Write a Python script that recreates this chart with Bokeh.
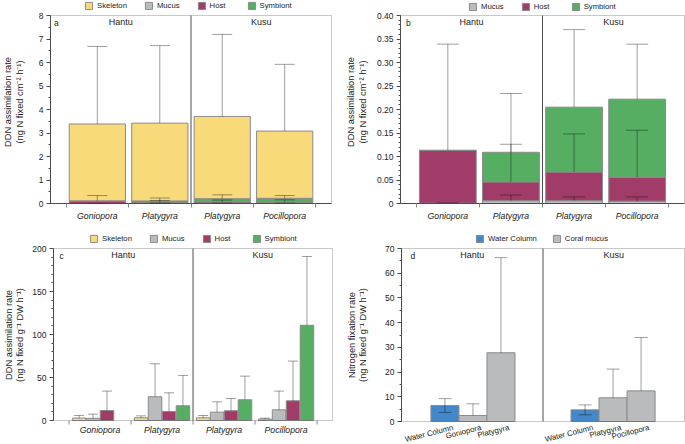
import numpy as np
from bokeh.plotting import figure
from bokeh.layouts import column, row
from bokeh.core.properties import value
from bokeh.models import (ColumnDataSource, Whisker, TeeHead, Label, LabelSet, Legend, LegendItem,
                          BoxAnnotation, FixedTicker, NumeralTickFormatter, Range1d)
from bokeh.embed import file_html
from bokeh.resources import INLINE

# ---------------- data ----------------
species = ["Goniopora", "Platygyra", "Platygyra", "Pocillopora"]
species_site = ["Hantu", "Hantu", "Kusu", "Kusu"]
sites = ["Hantu", "Kusu"]

# panel b (ng N fixed cm-2 h-1), stacked: mucus, host, symbiont
b_mucus = [0.0005, 0.006, 0.006, 0.005]
b_host = [0.1125, 0.040, 0.061, 0.051]
b_symb = [0.0, 0.063, 0.138, 0.166]
b_mucus_sd = [0.001, 0.012, 0.008, 0.009]
b_host_sd = [0.226, 0.080, 0.081, 0.100]
b_symb_sd = [0.0, 0.125, 0.165, 0.117]

# panel a adds the skeleton on top
a_skel = [3.27, 3.31, 3.50, 2.86]
a_skel_sd = [3.30, 3.30, 3.49, 2.84]

# panel c (ng N fixed g-1 DW h-1), grouped
c_skel = [2.8, 3.1, 3.1, 1.6]
c_mucus = [2.5, 27.6, 9.7, 12.4]
c_host = [11.6, 10.5, 11.3, 22.9]
c_symb = [0.0, 17.1, 24.1, 110.7]
c_skel_sd = [3.0, 2.3, 2.7, 1.1]
c_mucus_sd = [4.9, 38.4, 12.0, 21.8]
c_host_sd = [22.6, 21.7, 14.3, 46.2]
c_symb_sd = [0.0, 35.3, 27.5, 80.0]

# panel d nitrogen fixation
d_labels = ["Water Column", "Goniopora", "Platygyra", "Water Column", "Platygyra", "Pocillopora"]
d_site = ["Hantu", "Hantu", "Hantu", "Kusu", "Kusu", "Kusu"]
d_type = ["Water Column", "Coral mucus", "Coral mucus", "Water Column", "Coral mucus", "Coral mucus"]
d_value = [6.45, 2.43, 27.8, 4.72, 9.6, 12.4]
d_sd = [2.8, 4.72, 38.5, 2.0, 11.6, 21.6]

# y-axis ticks
a_ticks = [0, 1, 2, 3, 4, 5, 6, 7, 8]
b_ticks = [0, 0.05, 0.10, 0.15, 0.20, 0.25, 0.30, 0.35, 0.40]
c_ticks = [0, 50, 100, 150, 200]
d_ticks = [0, 10, 20, 30, 40, 50, 60, 70]

# ---------------- style ----------------
FONT = "Liberation Sans"
COL = {"Skeleton": "#F8DA7B", "Mucus": "#B9BBBC", "Host": "#A13C69",
       "Symbiont": "#56AE63", "Water Column": "#4388CA", "Coral mucus": "#B9BBBC"}
BAR_LINE = "#8a8a8a"
FRAME = "#4d4d4d"
TXT = "#222222"
ERR_ALPHA = 0.38


def base_fig(w, h, bl, br, bb, box_top_px, box_bot_px, box_w_px, xr, yr, ticks, n_minor):
    """Frame fills the canvas top (and bottom for c/d); the visible box is drawn from the data ranges."""
    frame_h = h - bb
    frame_w = w - bl - br
    ppu = (frame_h - box_top_px - box_bot_px) / (yr[1] - yr[0])
    y_start = yr[0] - box_bot_px / ppu
    y_end = yr[1] + box_top_px / ppu
    x_end = xr[0] + (xr[1] - xr[0]) * frame_w / box_w_px
    p = figure(width=w, height=h, x_range=Range1d(xr[0], x_end), y_range=Range1d(y_start, y_end),
               output_backend="svg", toolbar_location=None,
               min_border_left=bl, min_border_right=br, min_border_top=0, min_border_bottom=bb)
    p.grid.visible = False
    p.outline_line_color = None
    for ax in (p.xaxis[0], p.yaxis[0]):
        ax.axis_line_color = FRAME
        ax.major_tick_line_color = FRAME
        ax.minor_tick_line_color = FRAME
        ax.major_tick_in = 0
        ax.minor_tick_in = 0
        ax.major_label_text_font = FONT
        ax.major_label_text_color = TXT
        ax.axis_label_text_font = FONT
        ax.axis_label_text_font_style = "normal"
        ax.axis_label_text_color = TXT
    y = p.yaxis[0]
    step = (ticks[1] - ticks[0]) / n_minor
    minors = [round(ticks[0] + k * step, 6) for k in range(int(round((ticks[-1] - ticks[0]) / step)) + 1)]
    y.ticker = FixedTicker(ticks=ticks, minor_ticks=minors)
    y.bounds = (yr[0], yr[1])
    y.major_tick_out = 4
    y.minor_tick_out = 2
    y.major_label_standoff = 3
    y.major_label_text_font_size = "8.5px"
    y.axis_label_text_font_size = "9.3px"
    y.axis_label_text_line_height = 1.15
    p.xaxis[0].bounds = (xr[0], xr[1])
    p.add_layout(BoxAnnotation(left=xr[0], right=xr[1], bottom=yr[0], top=yr[1], fill_alpha=0,
                               line_color=FRAME, line_width=1, level="annotation"))
    return p, ppu


def cat_xaxis(p):
    xc = [i + 0.5 for i in range(len(species))]
    ax = p.xaxis[0]
    ax.ticker = FixedTicker(ticks=xc, minor_ticks=list(range(len(species) + 1)))
    ax.major_label_overrides = {x: lab for x, lab in zip(xc, species)}
    ax.major_tick_out = 0
    ax.minor_tick_out = 4
    ax.minor_tick_line_color = "#888888"
    ax.major_label_standoff = 3
    ax.major_label_text_font_size = "8.7px"
    ax.major_label_text_font_style = "italic"
    return xc


def inner_cat_labels(p, ppu):
    """x axis drawn inside the (extended) frame: boundary ticks + italic species labels."""
    p.xaxis.visible = False
    xc = [i + 0.5 for i in range(len(species))]
    bnd = list(range(len(species) + 1))
    p.segment(x0=bnd, y0=[0] * len(bnd), x1=bnd, y1=[-4 / ppu] * len(bnd), line_color="#888888", line_width=1)
    src = ColumnDataSource(dict(x=xc, y=[0] * len(xc), text=species))
    p.add_layout(LabelSet(source=src, x="x", y="y", text="text", y_offset=-9.5, text_align="center",
                          text_baseline="middle", text_font=value(FONT), text_font_size=value("8.7px"),
                          text_font_style=value("italic"), text_color=value(TXT)))
    return xc


def add_err(p, xs, lows, sds, cap, both=False):
    keep = [i for i, s in enumerate(sds) if s > 0]
    src = ColumnDataSource(dict(
        base=[xs[i] for i in keep],
        lower=[lows[i] - (sds[i] if both else 0) for i in keep],
        upper=[lows[i] + sds[i] for i in keep]))
    w = Whisker(source=src, base="base", lower="lower", upper="upper", dimension="height",
                line_color="black", line_alpha=ERR_ALPHA, line_width=1, level="annotation",
                upper_head=TeeHead(size=cap, line_color="black", line_alpha=ERR_ALPHA, line_width=1),
                lower_head=(TeeHead(size=cap, line_color="black", line_alpha=ERR_ALPHA, line_width=1)
                            if both else None))
    p.add_layout(w)


def decorate(p, letter, xr, yr, split, letter_dx):
    p.segment(x0=[split], y0=[yr[0]], x1=[split], y1=[yr[1]], line_color=FRAME, line_width=1)
    p.add_layout(Label(x=xr[0], y=yr[1], x_offset=letter_dx, y_offset=-7, text=letter,
                       text_font=FONT, text_font_size="8.5px", text_baseline="middle", text_color=TXT))
    centers = [(xr[0] + split) / 2, (split + xr[1]) / 2]
    for cx, s in zip(centers, sites):
        p.add_layout(Label(x=cx, y=yr[1], y_offset=-6.5, text=s, text_font=FONT,
                           text_font_size="9px", text_align="center", text_baseline="middle",
                           text_color=TXT))


def add_legend(p, items, x, y, spacing=17):
    lg = Legend(items=[LegendItem(label=n, renderers=[r]) for n, r in items],
                location=(x, y), orientation="horizontal", glyph_width=9, glyph_height=9,
                label_standoff=4, spacing=spacing, padding=0, margin=0, label_height=9,
                label_width=20, label_text_font=FONT, label_text_font_size="7.7px",
                label_text_color=TXT, border_line_alpha=0, background_fill_alpha=0)
    p.add_layout(lg, "center")


# ---------------- panel a ----------------
XR = (-0.25, 4.25)
pa, _ = base_fig(343, 225, 46, 10, 22, 15, 0, 285, XR, (0, 8), a_ticks, 2)
xc = cat_xaxis(pa)
pa.yaxis[0].axis_label = "DDN assimilation rate\n(ng N fixed cm⁻² h⁻¹)"
pa.yaxis[0].axis_label_standoff = 11
bottom = np.zeros(4)
rend_a = {}
errs = []
for name, vals, sd in [("Mucus", b_mucus, b_mucus_sd), ("Host", b_host, b_host_sd),
                       ("Symbiont", b_symb, b_symb_sd), ("Skeleton", a_skel, a_skel_sd)]:
    top = bottom + np.array(vals)
    rend_a[name] = pa.vbar(x=xc, bottom=bottom, top=top, width=0.9,
                           fill_color=COL[name], line_color=BAR_LINE, line_width=1)
    errs.append((list(top), sd))
    bottom = top
for tops, sd in errs:
    add_err(pa, xc, tops, sd, 20)
decorate(pa, "a", XR, (0, 8), 2, 3.5)
add_legend(pa, [(n, rend_a[n]) for n in ["Skeleton", "Mucus", "Host", "Symbiont"]], 34, 193)

# ---------------- panel b ----------------
pb, _ = base_fig(342, 225, 56, 0, 22, 15, 0, 285, XR, (0, 0.4), b_ticks, 5)
cat_xaxis(pb)
pb.yaxis[0].formatter = NumeralTickFormatter(format="0.00")
pb.yaxis[0].major_label_overrides = {0: "0"}
pb.yaxis[0].axis_label = "DDN assimilation rate\n(ng N fixed cm⁻² h⁻¹)"
pb.yaxis[0].axis_label_standoff = 6
bottom = np.zeros(4)
rend_b = {}
errs = []
for name, vals, sd in [("Mucus", b_mucus, b_mucus_sd), ("Host", b_host, b_host_sd),
                       ("Symbiont", b_symb, b_symb_sd)]:
    top = bottom + np.array(vals)
    rend_b[name] = pb.vbar(x=xc, bottom=bottom, top=top, width=0.9,
                           fill_color=COL[name], line_color=BAR_LINE, line_width=1)
    errs.append((list(top), sd))
    bottom = top
for tops, sd in errs:
    add_err(pb, xc, tops, sd, 22)
decorate(pb, "b", XR, (0, 0.4), 2, 5.5)
add_legend(pb, [(n, rend_b[n]) for n in ["Mucus", "Host", "Symbiont"]], 68, 192)

# ---------------- panel c ----------------
pc, ppu_c = base_fig(343, 219, 44, 9, 0, 23, 24, 288, XR, (0, 200), c_ticks, 5)
inner_cat_labels(pc, ppu_c)
pc.yaxis[0].axis_label = "DDN assimilation rate\n(ng N fixed g⁻¹ DW h⁻¹)"
pc.yaxis[0].axis_label_standoff = 4
bw = 0.225
rend_c = {}
for j, (name, vals, sd) in enumerate([("Skeleton", c_skel, c_skel_sd), ("Mucus", c_mucus, c_mucus_sd),
                                      ("Host", c_host, c_host_sd), ("Symbiont", c_symb, c_symb_sd)]):
    xs = [x + (j - 1.5) * bw for x in xc]
    keep = [i for i, v in enumerate(vals) if v > 0]
    rend_c[name] = pc.vbar(x=[xs[i] for i in keep], top=[vals[i] for i in keep], bottom=0,
                           width=bw * 0.97, fill_color=COL[name], line_color=BAR_LINE, line_width=1)
    add_err(pc, xs, vals, sd, 10)
decorate(pc, "c", XR, (0, 200), 2, 6)
add_legend(pc, [(n, rend_c[n]) for n in ["Skeleton", "Mucus", "Host", "Symbiont"]], 36, 201)

# ---------------- panel d ----------------
XRD = (-1.55, 8.55)
pd_, ppu_d = base_fig(342, 219, 54, 0, 0, 23, 23, 287, XRD, (0, 70), d_ticks, 2)
pd_.xaxis.visible = False
dx = [i if s == "Hantu" else i + 2 for i, s in enumerate(d_site)]
pd_.yaxis[0].axis_label = "Nitrogen fixation rate\n(ng N fixed g⁻¹ DW h⁻¹)"
pd_.yaxis[0].axis_label_standoff = 14
rend_d = {}
for t in ["Water Column", "Coral mucus"]:
    idx = [i for i, tt in enumerate(d_type) if tt == t]
    rend_d[t] = pd_.vbar(x=[dx[i] for i in idx], top=[d_value[i] for i in idx], bottom=0, width=1.0,
                         fill_color=COL[t], line_color=BAR_LINE, line_width=1)
    xs = [dx[i] for i in idx]
    add_err(pd_, xs, [d_value[i] for i in idx], [d_sd[i] for i in idx], 13, both=(t == "Water Column"))
d_src = ColumnDataSource(dict(x=dx, y=[0] * len(dx), text=d_labels))
pd_.add_layout(LabelSet(source=d_src, x="x", y="y", text="text", x_offset=7, y_offset=-1.5,
                        angle=0.25, text_align="right", text_baseline="top", text_font=value(FONT),
                        text_font_size=value("7.8px"), text_color=value(TXT)))
decorate(pd_, "d", XRD, (0, 70), 3.5, 9)
add_legend(pd_, [(n, rend_d[n]) for n in ["Water Column", "Coral mucus"]], 74, 201, spacing=15)

layout = column(row(pa, pb, spacing=0), row(pc, pd_, spacing=0), spacing=0)

open("out.html", "w").write(file_html(layout, INLINE))
